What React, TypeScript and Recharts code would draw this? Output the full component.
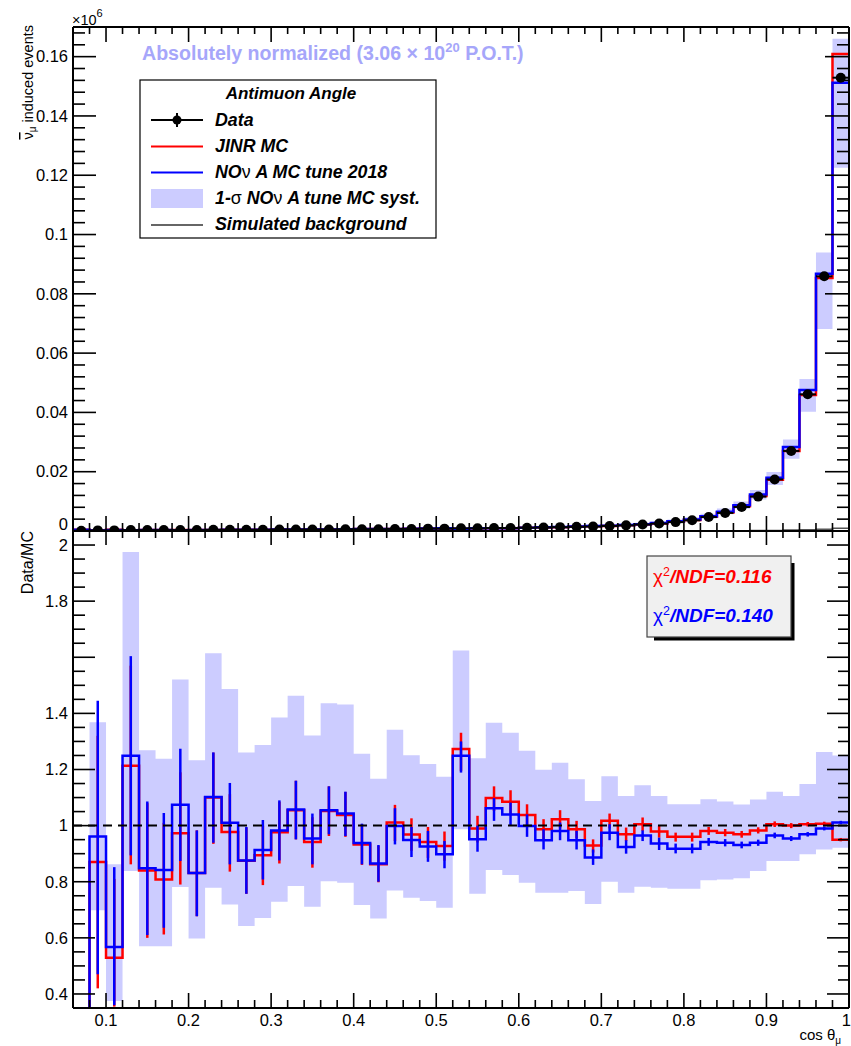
import React from "react";
import {
  ComposedChart,
  Line,
  Area,
  Scatter,
  XAxis,
  YAxis,
  ErrorBar,
  ReferenceLine,
} from "recharts";

const W = 851;
const H = 1046;
const FONT = '"Liberation Sans", Arial, Helvetica, sans-serif';

// bin edges of cos(theta_mu), 47 bins
const BIN_EDGES = [
  0.06, 0.08, 0.1, 0.12, 0.14, 0.16, 0.18, 0.2, 0.22, 0.24, 0.26, 0.28, 0.3,
  0.32, 0.34, 0.36, 0.38, 0.4, 0.42, 0.44, 0.46, 0.48, 0.5, 0.52, 0.54, 0.56,
  0.58, 0.6, 0.62, 0.64, 0.66, 0.68, 0.7, 0.72, 0.74, 0.76, 0.78, 0.8, 0.82,
  0.84, 0.86, 0.88, 0.9, 0.92, 0.94, 0.96, 0.98, 1.0,
];

// top panel, events x10^6
const DATA_EVENTS = [
  0.0001, 0.0002, 0.0002, 0.0003, 0.0003, 0.0003, 0.0003, 0.0003, 0.0004, 0.0004,
  0.0004, 0.0004, 0.0005, 0.0005, 0.0005, 0.0005, 0.0006, 0.0006, 0.0006, 0.0007,
  0.0007, 0.0008, 0.0008, 0.0009, 0.0009, 0.001, 0.001, 0.0011, 0.0012, 0.0013,
  0.0014, 0.0015, 0.0017, 0.0019, 0.0022, 0.0025, 0.003, 0.0036, 0.0047, 0.0061,
  0.0081, 0.0116, 0.0174, 0.027, 0.0461, 0.0859, 0.1529,
];
const JINR_EVENTS = [
  0.0004, 0.00023, 0.00038, 0.00025, 0.00036, 0.00037, 0.00031, 0.00036, 0.00036, 0.00041,
  0.00046, 0.00045, 0.00051, 0.00047, 0.00053, 0.00048, 0.00058, 0.00064, 0.0007, 0.00069,
  0.00072, 0.00085, 0.00086, 0.00071, 0.00091, 0.00091, 0.00092, 0.00106, 0.00122, 0.00127,
  0.00142, 0.00161, 0.00167, 0.00196, 0.00219, 0.00255, 0.00313, 0.00375, 0.00479, 0.00626,
  0.00836, 0.0118, 0.0173, 0.027, 0.0459, 0.0853, 0.1609,
];
const NOVA_EVENTS = [
  0.0004, 0.0002, 0.00035, 0.00024, 0.00035, 0.00036, 0.00028, 0.00036, 0.00036, 0.0004,
  0.00046, 0.00044, 0.00051, 0.00047, 0.00052, 0.00047, 0.00058, 0.00064, 0.00069, 0.0007,
  0.00074, 0.00086, 0.00089, 0.00072, 0.00095, 0.00094, 0.00096, 0.0011, 0.00127, 0.00133,
  0.00148, 0.00169, 0.00174, 0.00206, 0.00228, 0.00267, 0.00327, 0.00392, 0.00499, 0.0065,
  0.0087, 0.01235, 0.018, 0.0283, 0.0476, 0.0868, 0.1512,
];
const NOVA_SYST_LO = [
  null, 0.00015, 0.00023, 0.00015, 0.00024, 0.00024, 0.0002, 0.00024, 0.00025, 0.00027,
  0.00032, 0.00031, 0.00036, 0.00034, 0.00038, 0.00035, 0.00042, 0.00048, 0.00051, 0.00052,
  0.00056, 0.00066, 0.00068, 0.00055, 0.00073, 0.00073, 0.00075, 0.00087, 0.001, 0.00106,
  0.0012, 0.00138, 0.00145, 0.00172, 0.00192, 0.00226, 0.00279, 0.00335, 0.0043, 0.00562,
  0.00753, 0.0106, 0.0155, 0.0244, 0.0402, 0.0681, 0.1225,
];
const NOVA_SYST_HI = [
  null, 0.00029, 0.00053, 0.00036, 0.00053, 0.00053, 0.00038, 0.0005, 0.00051, 0.00056,
  0.00062, 0.0006, 0.00069, 0.00064, 0.0007, 0.00062, 0.00075, 0.00084, 0.0009, 0.00091,
  0.00094, 0.00109, 0.00113, 0.00091, 0.00119, 0.00119, 0.00121, 0.00138, 0.00158, 0.00171,
  0.00183, 0.00208, 0.00213, 0.0025, 0.00281, 0.00321, 0.00387, 0.00465, 0.00584, 0.00755,
  0.00998, 0.0138, 0.0199, 0.0309, 0.0513, 0.0939, 0.166,
];
const BACKGROUND_EVENTS = [
  0.0001, 0.0001, 0.0001, 0.0001, 0.0001, 0.0001, 0.0001, 0.0001, 0.0001, 0.0001,
  0.0001, 0.0001, 0.0001, 0.0001, 0.0001, 0.0001, 0.0001, 0.0001, 0.0001, 0.0001,
  0.0001, 0.0001, 0.0001, 0.0001, 0.0001, 0.0001, 0.0001, 0.0001, 0.0001, 0.0001,
  0.0001, 0.0001, 0.0001, 0.0001, 0.0001, 0.0001, 0.0001, 0.0001, 0.0001, 0.0001,
  0.0001, 0.0002, 0.0002, 0.0003, 0.0004, 0.0006, 0.0009,
];

// bottom panel, Data/MC
const RATIO_JINR = [
  0.0, 0.87, 0.529, 1.213, 0.84, 0.808, 0.973, 0.831, 1.1, 0.977,
  0.875, 0.894, 0.976, 1.055, 0.942, 1.052, 1.038, 0.933, 0.862, 1.011,
  0.968, 0.942, 0.927, 1.273, 0.99, 1.098, 1.085, 1.038, 0.987, 1.023,
  0.987, 0.929, 1.017, 0.969, 1.005, 0.979, 0.96, 0.96, 0.981, 0.975,
  0.969, 0.983, 1.005, 1.0, 1.005, 1.007, 0.95,
];
const RATIO_JINR_LO = [
  null, 0.42, 0.355, 0.862, 0.6, 0.612, 0.79, 0.677, 0.935, 0.836,
  0.757, 0.788, 0.865, 0.951, 0.85, 0.963, 0.96, 0.86, 0.798, 0.945,
  0.91, 0.885, 0.875, 1.195, 0.94, 1.052, 1.04, 1.002, 0.95, 0.99,
  0.955, 0.904, 0.99, 0.945, 0.981, 0.957, 0.943, 0.943, 0.967, 0.962,
  0.957, 0.972, 0.995, 0.991, 0.997, 1.0, 0.944,
];
const RATIO_JINR_HI = [
  null, 1.32, 0.81, 1.57, 1.08, 1.01, 1.19, 0.983, 1.26, 1.112,
  0.993, 1.0, 1.085, 1.16, 1.03, 1.14, 1.12, 1.005, 0.928, 1.074,
  1.026, 0.995, 0.979, 1.331, 1.035, 1.14, 1.126, 1.076, 1.023, 1.055,
  1.017, 0.951, 1.043, 0.993, 1.029, 1.0, 0.975, 0.975, 0.995, 0.988,
  0.981, 0.994, 1.015, 1.009, 1.013, 1.014, 0.956,
];
const RATIO_NOVA = [
  0.0, 0.961, 0.567, 1.249, 0.848, 0.842, 1.074, 0.831, 1.102, 1.01,
  0.876, 0.913, 0.983, 1.057, 0.954, 1.055, 1.043, 0.938, 0.865, 0.999,
  0.949, 0.926, 0.898, 1.249, 0.951, 1.062, 1.04, 0.999, 0.948, 0.981,
  0.948, 0.886, 0.975, 0.924, 0.965, 0.936, 0.918, 0.918, 0.942, 0.939,
  0.931, 0.939, 0.965, 0.954, 0.969, 0.99, 1.011,
];
const RATIO_NOVA_LO = [
  null, 0.47, 0.36, 0.894, 0.61, 0.636, 0.874, 0.677, 0.939, 0.862,
  0.757, 0.808, 0.876, 0.951, 0.862, 0.969, 0.963, 0.862, 0.8, 0.933,
  0.888, 0.871, 0.848, 1.189, 0.907, 1.017, 1.002, 0.96, 0.915, 0.948,
  0.915, 0.86, 0.948, 0.9, 0.945, 0.913, 0.901, 0.901, 0.928, 0.926,
  0.919, 0.928, 0.955, 0.945, 0.961, 0.983, 1.005,
];
const RATIO_NOVA_HI = [
  null, 1.445, 0.852, 1.604, 1.086, 1.045, 1.274, 0.983, 1.261, 1.152,
  0.995, 1.02, 1.09, 1.16, 1.043, 1.14, 1.121, 1.007, 0.931, 1.062,
  0.995, 0.981, 0.945, 1.3, 1.0, 1.098, 1.082, 1.04, 0.987, 1.011,
  0.981, 0.915, 1.005, 0.948, 0.983, 0.957, 0.936, 0.936, 0.956, 0.952,
  0.943, 0.95, 0.975, 0.963, 0.977, 0.997, 1.017,
];
const RATIO_SYST_LO = [
  null, 0.698, 0.375, 0.838, 0.57, 0.57, 0.781, 0.598, 0.779, 0.719,
  0.642, 0.671, 0.729, 0.785, 0.711, 0.802, 0.796, 0.717, 0.669, 0.769,
  0.743, 0.731, 0.707, 0.987, 0.757, 0.842, 0.824, 0.796, 0.761, 0.761,
  0.767, 0.721, 0.8, 0.761, 0.782, 0.779, 0.775, 0.775, 0.805, 0.808,
  0.812, 0.838, 0.874, 0.874, 0.898, 0.915, 0.921,
];
const RATIO_SYST_HI = [
  null, 1.368, 0.862, 1.975, 1.269, 1.238, 1.521, 1.233, 1.614, 1.487,
  1.261, 1.287, 1.385, 1.463, 1.321, 1.436, 1.432, 1.256, 1.167, 1.342,
  1.251, 1.22, 1.174, 1.624, 1.24, 1.367, 1.331, 1.267, 1.199, 1.224,
  1.165, 1.088, 1.176, 1.106, 1.144, 1.106, 1.076, 1.076, 1.094, 1.086,
  1.075, 1.093, 1.121, 1.106, 1.148, 1.262, 1.25,
];

// axis labels
const X_MAJOR = [0.1, 0.2, 0.3, 0.4, 0.5, 0.6, 0.7, 0.8, 0.9, 1.0];
const X_LABELS = ["0.1", "0.2", "0.3", "0.4", "0.5", "0.6", "0.7", "0.8", "0.9", "1"];
const TOP_Y_MAJOR = [0, 0.02, 0.04, 0.06, 0.08, 0.1, 0.12, 0.14, 0.16];
const TOP_Y_LABELS = ["0", "0.02", "0.04", "0.06", "0.08", "0.1", "0.12", "0.14", "0.16"];
const RATIO_Y_MAJOR = [0.4, 0.6, 0.8, 1, 1.2, 1.4, 1.6, 1.8, 2];
const RATIO_Y_LABELS = ["0.4", "0.6", "0.8", "1", "1.2", "1.4", "", "1.8", "2"];

const X_TICKS = BIN_EDGES;
const TOP_Y_TICKS = Array.from({ length: 43 }, (_, i) => +(i * 0.004).toFixed(3));
const RATIO_Y_TICKS = Array.from({ length: 35 }, (_, i) => +(0.35 + i * 0.05).toFixed(2));

const CENTERS = BIN_EDGES.slice(0, -1).map((e, i) => +((e + BIN_EDGES[i + 1]) / 2).toFixed(3));

const stepRows = (vals: number[]) =>
  BIN_EDGES.map((x, i) => ({ x, y: vals[Math.min(i, vals.length - 1)] }));

const bandRows = (lo: (number | null)[], hi: (number | null)[]) =>
  BIN_EDGES.slice(1).map((x, k) => {
    const i = Math.min(k + 1, lo.length - 1);
    return { x, y: [lo[i], hi[i]] };
  });

const errRows = (vals: number[], lo: (number | null)[], hi: (number | null)[]) =>
  CENTERS.map((x, i) => ({ x, y: vals[i], lo: lo[i], hi: hi[i] }))
    .filter((r) => r.lo != null)
    .map((r) => ({ x: r.x, y: r.y, err: [r.y - (r.lo as number), (r.hi as number) - r.y] }));

const dataRows = CENTERS.map((x, i) => ({ x, y: DATA_EVENTS[i], xerr: 0.01 }));

type Side = "left" | "right" | "top" | "bottom";
function makeTick(
  side: Side,
  majorLen: number,
  minorLen: number,
  majors: number[],
  labels?: string[],
  zeroShift = 0
) {
  return (props: any) => {
    const { x, y, payload } = props;
    const v = payload.value as number;
    const k = majors.findIndex((m) => Math.abs(m - v) < 1e-6);
    const len = k >= 0 ? majorLen : minorLen;
    let x2 = x;
    let y2 = y;
    if (side === "left") x2 = x + len;
    else if (side === "right") x2 = x - len;
    else if (side === "top") y2 = y + len;
    else y2 = y - len;
    const lab = k >= 0 && labels ? labels[k] : "";
    // the last label sits on the right frame edge; keep it inside the picture
    const atEnd = side === "bottom" && Math.abs(v - 1) < 1e-6;
    return (
      <g>
        <line x1={x} y1={y} x2={x2} y2={y2} stroke="#000" strokeWidth={1.6} />
        {lab !== "" && side === "left" && (
          <text
            x={x - 5}
            y={y + (v === 0 ? zeroShift : 0)}
            dy="0.35em"
            textAnchor="end"
            fontSize={16.5}
            fontFamily={FONT}
            fill="#000"
          >
            {lab}
          </text>
        )}
        {lab !== "" && side === "bottom" && (
          <text
            x={atEnd ? x + 2 : x}
            y={y + 17.5}
            textAnchor={atEnd ? "end" : "middle"}
            fontSize={16.5}
            fontFamily={FONT}
            fill="#000"
          >
            {lab}
          </text>
        )}
      </g>
    );
  };
}

const AXIS_LINE = { stroke: "#000", strokeWidth: 2 };
const axisCommon = {
  type: "number" as const,
  allowDataOverflow: true,
  interval: 0 as const,
  tickSize: 0,
  tickMargin: 0,
  tickLine: false,
  axisLine: AXIS_LINE,
};

function TopPanel() {
  return (
    <ComposedChart width={W} height={H} margin={{ top: 0, right: 0, bottom: 0, left: 0 }}>
      <XAxis
        {...axisCommon}
        xAxisId="b"
        dataKey="x"
        domain={[0.06, 1]}
        ticks={X_TICKS}
        orientation="bottom"
        height={H - 531}
        tick={makeTick("bottom", 15, 8, X_MAJOR)}
      />
      <XAxis
        {...axisCommon}
        xAxisId="t"
        dataKey="x"
        domain={[0.06, 1]}
        ticks={X_TICKS}
        orientation="top"
        height={27}
        tick={makeTick("top", 15, 7, X_MAJOR)}
      />
      <YAxis
        {...axisCommon}
        yAxisId="l"
        dataKey="y"
        domain={[0, 0.17]}
        ticks={TOP_Y_TICKS}
        orientation="left"
        width={73}
        tick={makeTick("left", 23, 12, TOP_Y_MAJOR, TOP_Y_LABELS, -7)}
      />
      <YAxis
        {...axisCommon}
        yAxisId="r"
        dataKey="y"
        domain={[0, 0.17]}
        ticks={TOP_Y_TICKS}
        orientation="right"
        width={2}
        tick={makeTick("right", 24, 12, TOP_Y_MAJOR)}
      />
      <Line
        xAxisId="t"
        yAxisId="r"
        data={stepRows(NOVA_EVENTS)}
        dataKey="y"
        stroke="none"
        dot={false}
        activeDot={false}
        isAnimationActive={false}
      />
      <Area
        xAxisId="b"
        yAxisId="l"
        data={bandRows(NOVA_SYST_LO, NOVA_SYST_HI)}
        dataKey="y"
        type="stepAfter"
        fill="#ccccff"
        fillOpacity={1}
        stroke="none"
        isAnimationActive={false}
      />
      <Line
        xAxisId="b"
        yAxisId="l"
        data={stepRows(BACKGROUND_EVENTS)}
        dataKey="y"
        type="stepAfter"
        stroke="#555"
        strokeWidth={1.5}
        dot={false}
        activeDot={false}
        isAnimationActive={false}
      />
      <Line
        xAxisId="b"
        yAxisId="l"
        data={stepRows(JINR_EVENTS)}
        dataKey="y"
        type="stepAfter"
        stroke="#ff0000"
        strokeWidth={2.5}
        dot={false}
        activeDot={false}
        isAnimationActive={false}
      />
      <Line
        xAxisId="b"
        yAxisId="l"
        data={stepRows(NOVA_EVENTS)}
        dataKey="y"
        type="stepAfter"
        stroke="#0000ff"
        strokeWidth={2.5}
        dot={false}
        activeDot={false}
        isAnimationActive={false}
      />
      <Scatter
        xAxisId="b"
        yAxisId="l"
        data={dataRows}
        dataKey="y"
        isAnimationActive={false}
        shape={(p: any) => <circle cx={p.cx} cy={p.cy} r={5} fill="#000" />}
      >
        <ErrorBar dataKey="xerr" direction="x" width={0} stroke="#000" strokeWidth={2} />
      </Scatter>
    </ComposedChart>
  );
}

function RatioPanel() {
  return (
    <ComposedChart width={W} height={H} margin={{ top: 0, right: 0, bottom: 0, left: 0 }}>
      <XAxis
        {...axisCommon}
        xAxisId="b"
        dataKey="x"
        domain={[0.06, 1]}
        ticks={X_TICKS}
        orientation="bottom"
        height={H - 1008}
        tick={makeTick("bottom", 15, 8, X_MAJOR, X_LABELS)}
      />
      <XAxis
        {...axisCommon}
        xAxisId="t"
        dataKey="x"
        domain={[0.06, 1]}
        ticks={X_TICKS}
        orientation="top"
        height={531}
        tick={makeTick("top", 14, 7, X_MAJOR)}
      />
      <YAxis
        {...axisCommon}
        yAxisId="l"
        dataKey="y"
        domain={[0.35, 2.05]}
        ticks={RATIO_Y_TICKS}
        orientation="left"
        width={73}
        tick={makeTick("left", 22, 12, RATIO_Y_MAJOR, RATIO_Y_LABELS)}
      />
      <YAxis
        {...axisCommon}
        yAxisId="r"
        dataKey="y"
        domain={[0.35, 2.05]}
        ticks={RATIO_Y_TICKS}
        orientation="right"
        width={2}
        tick={makeTick("right", 22, 11, RATIO_Y_MAJOR)}
      />
      <Line
        xAxisId="t"
        yAxisId="r"
        data={stepRows(RATIO_NOVA)}
        dataKey="y"
        stroke="none"
        dot={false}
        activeDot={false}
        isAnimationActive={false}
      />
      <Area
        xAxisId="b"
        yAxisId="l"
        data={bandRows(RATIO_SYST_LO, RATIO_SYST_HI)}
        dataKey="y"
        type="stepAfter"
        fill="#ccccff"
        fillOpacity={1}
        stroke="none"
        isAnimationActive={false}
      />
      <Line
        xAxisId="b"
        yAxisId="l"
        data={stepRows(RATIO_JINR)}
        dataKey="y"
        type="stepAfter"
        stroke="#ff0000"
        strokeWidth={2.5}
        dot={false}
        activeDot={false}
        isAnimationActive={false}
      />
      <Scatter
        xAxisId="b"
        yAxisId="l"
        data={errRows(RATIO_JINR, RATIO_JINR_LO, RATIO_JINR_HI)}
        dataKey="y"
        isAnimationActive={false}
        shape={() => <g />}
      >
        <ErrorBar dataKey="err" direction="y" width={0} stroke="#ff0000" strokeWidth={2.5} />
      </Scatter>
      <Line
        xAxisId="b"
        yAxisId="l"
        data={stepRows(RATIO_NOVA)}
        dataKey="y"
        type="stepAfter"
        stroke="#0000ff"
        strokeWidth={2.5}
        dot={false}
        activeDot={false}
        isAnimationActive={false}
      />
      <Scatter
        xAxisId="b"
        yAxisId="l"
        data={errRows(RATIO_NOVA, RATIO_NOVA_LO, RATIO_NOVA_HI)}
        dataKey="y"
        isAnimationActive={false}
        shape={() => <g />}
      >
        <ErrorBar dataKey="err" direction="y" width={0} stroke="#0000ff" strokeWidth={2.5} />
      </Scatter>
      <ReferenceLine
        xAxisId="b"
        yAxisId="l"
        y={1}
        stroke="#000"
        strokeWidth={2}
        strokeDasharray="9 6"
      />
    </ComposedChart>
  );
}

function Annotations() {
  const bi = { fontWeight: 700, fontStyle: "italic" } as const;
  const plain = { fontWeight: 400, fontStyle: "normal" } as const;
  return (
    <svg
      width={W}
      height={H}
      style={{ position: "absolute", left: 0, top: 0, pointerEvents: "none" }}
      fontFamily={FONT}
    >
      <text x={72} y={25} fontSize={14.5}>
        ×10
        <tspan dy={-8} fontSize={11}>
          6
        </tspan>
      </text>
      <text transform="rotate(-90 33 25)" x={33} y={25} textAnchor="end" fontSize={14.5}>
        <tspan textDecoration="overline">ν</tspan>
        <tspan dy={3} fontSize={10}>
          μ
        </tspan>
        <tspan dy={-3}> induced events</tspan>
      </text>
      <text transform="rotate(-90 33 531)" x={33} y={531} textAnchor="end" fontSize={16}>
        Data/MC
      </text>
      <text x={841} y={1040} textAnchor="end" fontSize={15}>
        cos θ
        <tspan dy={4} fontSize={10}>
          μ
        </tspan>
      </text>

      <text x={142} y={60} fontSize={19.6} fontWeight={700} fill="#a6a6fa">
        Absolutely normalized (3.06 × 10
        <tspan dy={-8} fontSize={13}>
          20
        </tspan>
        <tspan dy={8}> P.O.T.)</tspan>
      </text>

      <rect x={140} y={80} width={296} height={158} fill="#fff" stroke="#000" strokeWidth={1.2} />
      <text x={291} y={99} textAnchor="middle" fontSize={17} {...bi}>
        Antimuon Angle
      </text>
      <line x1={151} y1={120} x2={203} y2={120} stroke="#000" strokeWidth={2} />
      <line x1={177} y1={113} x2={177} y2={127} stroke="#000" strokeWidth={2} />
      <circle cx={177} cy={120} r={4.5} fill="#000" />
      <text x={215} y={126} fontSize={17.8} {...bi}>
        Data
      </text>
      <line x1={151} y1={146.5} x2={203} y2={146.5} stroke="#ff0000" strokeWidth={2} />
      <text x={215} y={152} fontSize={17.8} {...bi}>
        JINR MC
      </text>
      <line x1={151} y1={172.5} x2={203} y2={172.5} stroke="#0000ff" strokeWidth={2} />
      <text x={215} y={178} fontSize={17.8} {...bi}>
        NO<tspan {...plain}>ν</tspan> A MC tune 2018
      </text>
      <rect x={151} y={189} width={52} height={19} fill="#ccccff" />
      <text x={215} y={204} fontSize={17.8} {...bi}>
        1-<tspan {...plain}>σ</tspan> NO<tspan {...plain}>ν</tspan> A tune MC syst.
      </text>
      <line x1={151} y1={225} x2={203} y2={225} stroke="#666" strokeWidth={2} />
      <text x={215} y={230} fontSize={17.8} {...bi}>
        Simulated background
      </text>

      <rect x={654} y={563} width={140.5} height={77.5} fill="#000" />
      <rect x={647} y={556} width={144} height={81} fill="#f0f0f0" stroke="#444" strokeWidth={1.2} />
      <text x={653} y={583} fontSize={19} fill="#ff0000">
        <tspan {...plain}>χ</tspan>
        <tspan dy={-7} fontSize={12.5}>
          2
        </tspan>
        <tspan dy={7} {...bi}>
          /NDF=0.116
        </tspan>
      </text>
      <text x={653} y={621.5} fontSize={19} fill="#0000ff">
        <tspan {...plain}>χ</tspan>
        <tspan dy={-7} fontSize={12.5}>
          2
        </tspan>
        <tspan dy={7} {...bi}>
          /NDF=0.140
        </tspan>
      </text>
    </svg>
  );
}

export default function App() {
  return (
    <div
      style={{
        position: "absolute",
        left: 0,
        top: 0,
        width: W,
        height: H,
        background: "#fff",
        fontFamily: FONT,
      }}
    >
      <div style={{ position: "absolute", left: 0, top: 0 }}>
        <TopPanel />
      </div>
      <div style={{ position: "absolute", left: 0, top: 0 }}>
        <RatioPanel />
      </div>
      <Annotations />
    </div>
  );
}
